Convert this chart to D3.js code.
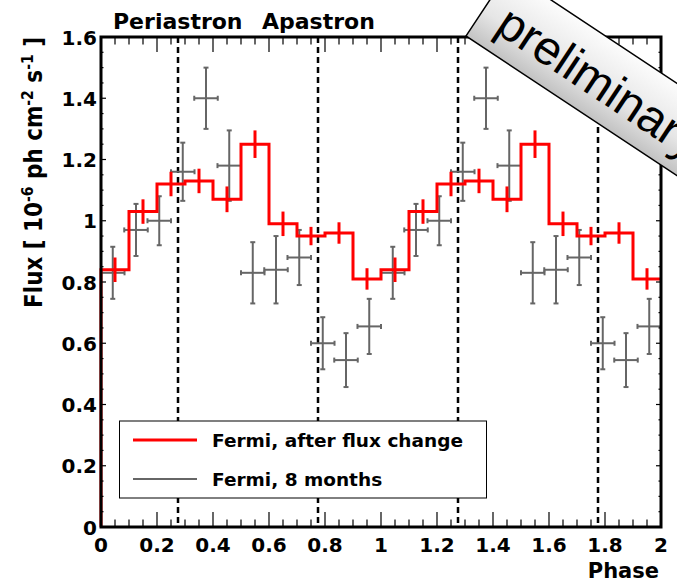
<!DOCTYPE html>
<html>
<head>
<meta charset="utf-8">
<script src="https://cdn.jsdelivr.net/npm/d3@7"></script>
<style>
  body { margin: 0; background: #fff; }
  text { font-family: "DejaVu Sans", sans-serif; font-weight: bold; fill: #000; }
</style>
</head>
<body>
<svg id="chart" width="677" height="581"></svg>
<script>
// orbital phase bins, one cycle (drawn twice)
var redBinLo = [0.0, 0.1, 0.2, 0.3, 0.4, 0.5, 0.6, 0.7, 0.8, 0.9];
var redBinHi = [0.1, 0.2, 0.3, 0.4, 0.5, 0.6, 0.7, 0.8, 0.9, 1.0];
var redFlux  = [0.84, 1.03, 1.12, 1.13, 1.07, 1.25, 0.99, 0.95, 0.96, 0.81];
var redErr   = [0.04, 0.04, 0.04, 0.04, 0.042, 0.045, 0.04, 0.03, 0.035, 0.035];

var greyPhase = [0.042, 0.125, 0.208, 0.292, 0.375, 0.458, 0.542, 0.625, 0.708, 0.792, 0.875, 0.958];
var greyHalf  = [0.042, 0.042, 0.042, 0.042, 0.042, 0.042, 0.042, 0.042, 0.042, 0.042, 0.042, 0.042];
var greyFlux  = [0.83, 0.97, 1.00, 1.16, 1.40, 1.18, 0.83, 0.84, 0.88, 0.60, 0.545, 0.655];
var greyErr   = [0.085, 0.085, 0.08, 0.095, 0.10, 0.115, 0.10, 0.11, 0.09, 0.085, 0.088, 0.09];

var cycles = [0, 1];
var markerPhase = [0.275, 0.775, 1.275, 1.775];

var xTicks = [0, 0.2, 0.4, 0.6, 0.8, 1, 1.2, 1.4, 1.6, 1.8, 2];
var xTickLabels = ["0", "0.2", "0.4", "0.6", "0.8", "1", "1.2", "1.4", "1.6", "1.8", "2"];
var yTicks = [0, 0.2, 0.4, 0.6, 0.8, 1, 1.2, 1.4, 1.6];
var yTickLabels = ["0", "0.2", "0.4", "0.6", "0.8", "1", "1.2", "1.4", "1.6"];

var svg = d3.select("#chart");
var padL = 101, padR = 661, padT = 37, padB = 527;

var x = d3.scaleLinear().domain([0, 2]).range([padL, padR]);
var y = d3.scaleLinear().domain([0, 1.6]).range([padB, padT]);

var red = "#ff0000", grey = "#666666";

// dashed periastron / apastron markers
svg.append("g").selectAll("line")
    .data(markerPhase)
    .enter().append("line")
    .attr("x1", d => x(d)).attr("x2", d => x(d))
    .attr("y1", padT).attr("y2", padB)
    .attr("stroke", "#000").attr("stroke-width", 2.5)
    .attr("stroke-dasharray", "6,4");

// grey points: 8 months
var greyPts = [];
cycles.forEach(function(c) {
  greyPhase.forEach(function(p, i) {
    greyPts.push({x: p + c, h: greyHalf[i], v: greyFlux[i], e: greyErr[i]});
  });
});
var gp = svg.append("g").attr("stroke", grey).attr("stroke-width", 2);
greyPts.forEach(function(d) {
  var cx = x(d.x), cy = y(d.v);
  var x0 = x(d.x - d.h), x1 = x(d.x + d.h);
  var y0 = y(d.v - d.e), y1 = y(d.v + d.e);
  gp.append("line").attr("x1", x0).attr("x2", x1).attr("y1", cy).attr("y2", cy);
  gp.append("line").attr("x1", cx).attr("x2", cx).attr("y1", y0).attr("y2", y1);
  gp.append("line").attr("x1", x0).attr("x2", x0).attr("y1", cy - 2.5).attr("y2", cy + 2.5);
  gp.append("line").attr("x1", x1).attr("x2", x1).attr("y1", cy - 2.5).attr("y2", cy + 2.5);
  gp.append("line").attr("x1", cx - 2.5).attr("x2", cx + 2.5).attr("y1", y0).attr("y2", y0);
  gp.append("line").attr("x1", cx - 2.5).attr("x2", cx + 2.5).attr("y1", y1).attr("y2", y1);
});

// red histogram (after flux change)
var steps = [[0, 0]];
var redBars = [];
cycles.forEach(function(c) {
  redFlux.forEach(function(v, i) {
    steps.push([redBinLo[i] + c, v]);
    steps.push([redBinHi[i] + c, v]);
    redBars.push({x: (redBinLo[i] + redBinHi[i]) / 2 + c, v: v, e: redErr[i]});
  });
});
var line = d3.line().x(d => x(d[0])).y(d => y(d[1]));
svg.append("path")
    .attr("d", line(steps))
    .attr("fill", "none")
    .attr("stroke", red).attr("stroke-width", 3);
svg.append("g").selectAll("line")
    .data(redBars)
    .enter().append("line")
    .attr("x1", d => x(d.x)).attr("x2", d => x(d.x))
    .attr("y1", d => y(d.v - d.e)).attr("y2", d => y(d.v + d.e))
    .attr("stroke", red).attr("stroke-width", 3);

// frame and ticks
var ax = svg.append("g").attr("stroke", "#000");
var xMinor = d3.range(0, 2.0001, 0.05);
var yMinor = d3.range(0, 1.6001, 0.05);
xMinor.forEach(function(t, i) {
  var len = (i % 4 === 0) ? 15 : 7.5;
  ax.append("line").attr("x1", x(t)).attr("x2", x(t)).attr("y1", padB).attr("y2", padB - len).attr("stroke-width", 1.2);
  ax.append("line").attr("x1", x(t)).attr("x2", x(t)).attr("y1", padT).attr("y2", padT + len).attr("stroke-width", 1.2);
});
yMinor.forEach(function(t, i) {
  var len = (i % 4 === 0) ? 5 : 2.5;
  ax.append("line").attr("y1", y(t)).attr("y2", y(t)).attr("x1", padL).attr("x2", padL + len).attr("stroke-width", 1.2);
  ax.append("line").attr("y1", y(t)).attr("y2", y(t)).attr("x1", padR).attr("x2", padR - len).attr("stroke-width", 1.2);
});
svg.append("rect")
    .attr("x", padL).attr("y", padT)
    .attr("width", padR - padL).attr("height", padB - padT)
    .attr("fill", "none").attr("stroke", "#000").attr("stroke-width", 3);

// tick labels
svg.append("g").selectAll("text")
    .data(xTicks)
    .enter().append("text")
    .attr("x", d => x(d)).attr("y", 552)
    .attr("text-anchor", "middle")
    .style("font-size", "20px")
    .text((d, i) => xTickLabels[i]);
svg.append("g").selectAll("text")
    .data(yTicks)
    .enter().append("text")
    .attr("x", 97).attr("y", d => y(d) + 7.5)
    .attr("text-anchor", "end")
    .style("font-size", "20px")
    .text((d, i) => yTickLabels[i]);

// axis titles
svg.append("text")
    .attr("x", 659).attr("y", 578)
    .attr("text-anchor", "end")
    .style("font-size", "21px")
    .text("Phase");

var yl = svg.append("text")
    .attr("transform", "translate(42,37) scale(1.15,1) rotate(-90)")
    .attr("text-anchor", "end")
    .style("font-size", "21.5px")
    .style("white-space", "pre");
yl.append("tspan").text("Flux [ 10");
yl.append("tspan").attr("dy", -8).style("font-size", "14px").text("-6");
yl.append("tspan").attr("dy", 8).text(" ph cm");
yl.append("tspan").attr("dy", -8).style("font-size", "14px").text("-2");
yl.append("tspan").attr("dy", 8).text(" s");
yl.append("tspan").attr("dy", -8).style("font-size", "14px").text("-1");
yl.append("tspan").attr("dy", 8).text(" ]");

// title
svg.append("text").attr("x", 113).attr("y", 29).style("font-size", "22px").text("Periastron");
svg.append("text").attr("x", 262).attr("y", 29).style("font-size", "22px").text("Apastron");

// legend
var lg = svg.append("g");
lg.append("rect")
    .attr("x", 119.5).attr("y", 421)
    .attr("width", 367).attr("height", 77)
    .attr("fill", "#fff").attr("stroke", "#000").attr("stroke-width", 1);
lg.append("line").attr("x1", 133).attr("x2", 197).attr("y1", 440).attr("y2", 440)
    .attr("stroke", red).attr("stroke-width", 3);
lg.append("text").attr("x", 212).attr("y", 446.5).style("font-size", "18.5px").text("Fermi, after flux change");
lg.append("line").attr("x1", 133).attr("x2", 197).attr("y1", 479).attr("y2", 479)
    .attr("stroke", grey).attr("stroke-width", 2);
lg.append("text").attr("x", 212).attr("y", 486).style("font-size", "18.5px").text("Fermi, 8 months");

// preliminary stamp
var defs = svg.append("defs");
var grad = defs.append("linearGradient").attr("id", "stampGrad")
    .attr("x1", 0).attr("y1", 0).attr("x2", 0).attr("y2", 1);
grad.append("stop").attr("offset", "0%").attr("stop-color", "#fcfcfc");
grad.append("stop").attr("offset", "60%").attr("stop-color", "#e6e6e6");
grad.append("stop").attr("offset", "100%").attr("stop-color", "#c2c2c2");

var st = svg.append("g").attr("transform", "translate(466,36) rotate(33.5)");
st.append("rect")
    .attr("x", 0).attr("y", -77)
    .attr("width", 420).attr("height", 77)
    .attr("fill", "url(#stampGrad)")
    .attr("stroke", "#000").attr("stroke-width", 1.5);
st.append("text")
    .attr("x", 20).attr("y", -19)
    .style("font-family", "'Liberation Sans', Arial, sans-serif")
    .style("font-weight", "normal")
    .style("font-size", "48px")
    .text("preliminary");
</script>
</body>
</html>
